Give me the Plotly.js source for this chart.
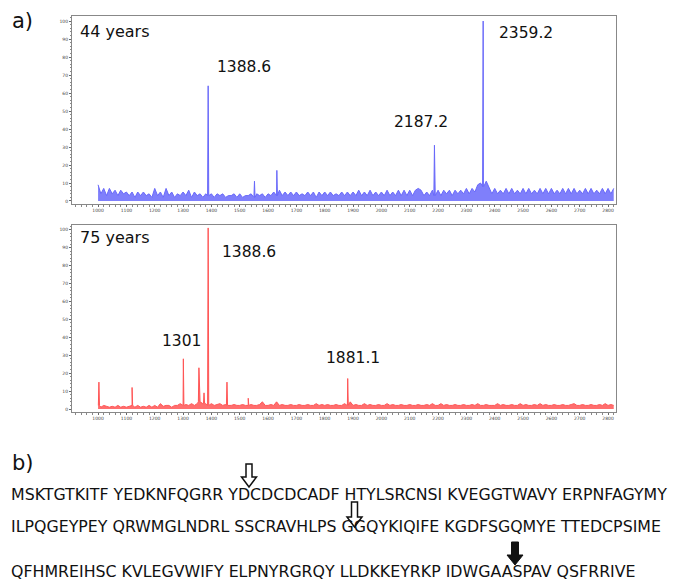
<!DOCTYPE html>
<html>
<head>
<meta charset="utf-8">
<script src="https://cdn.plot.ly/plotly-3.0.1.min.js"></script>
<style>html,body{margin:0;padding:0;background:#fff;}#chart{width:676px;height:582px;}</style>
</head>
<body>
<div id="chart"></div>
<script>
// ---------- DATA ----------
const noiseStart = 1000;
const noiseStep = 10;
// 44 years: baseline noise (relative intensity, every 10 m/z from 1000 to 2820)
const topNoise = [
 9,4,7,3,7,4,6,3,6,4,
 5,3,5,2,5,3,5,3,4,2,
 7,3,5,2,7,3,5,2,4,3,
 5,3,6,2,5,3,4,2,4,3,
 4,2,4,3,4,2,3,3,4,2,
 4,2,3,3,4,2,4,3,4,2,
 4,3,5,3,6,3,5,3,5,3,
 5,3,4,3,5,3,5,2,5,3,
 5,3,5,3,4,3,5,3,5,3,
 5,3,6,3,5,3,6,3,5,3,
 5,3,6,3,5,3,6,3,6,3,
 6,3,6,7,6,3,5,3,6,3,
 6,3,6,4,6,3,6,4,6,4,
 7,4,7,5,9,10,8,11,7,4,
 7,4,6,4,7,4,7,4,6,4,
 7,4,7,4,6,4,7,4,7,4,
 7,4,6,4,7,4,7,4,7,4,
 6,4,7,4,7,4,6,4,7,4,
 7,4,7
];
const topPeakMz = [1388.6, 1552, 1631, 2187.2, 2359.2];
const topPeakInt = [64, 11, 17, 31, 100];
const topLabels = ["1388.6", "2187.2", "2359.2"];

// 75 years
const bottomNoise = [
 2,1,2,1.5,1,1.5,1,2,1,1.5,
 1,1.5,2,1,2,1,1.5,1,2,1,
 2,1,3,1.5,2,2,1,2,2,3,
 2,2.5,2,3,2,3,4,3,3,2,
 3,2,2.5,3,2,2.5,2,2,2.5,2,
 2,2.5,2,2,2.5,2,2,2.5,4,2,
 2,2.5,2,4,2,2.5,2,2,2.5,2,
 2,2.5,2,2,2.5,2,2,3,2,2.5,
 2,2.5,2,2,2.5,2,2,3,2,4,
 2,2.5,2,2,3,2,2.5,2,2,2.5,
 2,2,3,2,2.5,2,2,2.5,2,2,
 2.5,2,2,2.5,2,2,2.5,2,3,2,
 2,3,2,2.5,2,2,2.5,2,2,2.5,
 2,2,2.5,2,3,2,2,2.5,2,2,
 2,3,2,2.5,2,2,2.5,2,2,3,
 2,2.5,2,2,2.5,2,3,2,2.5,2,
 2,2.5,2,2,2.5,2,2,2.5,3,2,
 2,2.5,2,2,2.5,2,2,2.5,2,3,
 2,2.5,2
];
const bottomPeakMz = [1003, 1120, 1301, 1356, 1374, 1388.6, 1455, 1530, 1881.1];
const bottomPeakInt = [15, 12, 28, 23, 9, 101, 15, 6, 17];
const bottomLabels = ["1388.6", "1301", "1881.1"];

const xTicks = [1000,1100,1200,1300,1400,1500,1600,1700,1800,1900,2000,2100,2200,2300,2400,2500,2600,2700,2800];
const yTicks = [0,10,20,30,40,50,60,70,80,90,100];

const panelTitles = ["44 years", "75 years"];
const seqLines = [
 "MSKTGTKITF YEDKNFQGRR YDCDCDCADF HTYLSRCNSI KVEGGTWAVY ERPNFAGYMY",
 "ILPQGEYPEY QRWMGLNDRL SSCRAVHLPS GGQYKIQIFE KGDFSGQMYE TTEDCPSIME",
 "QFHMREIHSC KVLEGVWIFY ELPNYRGRQY LLDKKEYRKP IDWGAASPAV QSFRRIVE"
];

// ---------- BUILD ----------
function spectrum(noise, pmz, pint){
  const pts = [];
  noise.forEach((v,i)=>pts.push([noiseStart + i*noiseStep, v]));
  pmz.forEach((m,i)=>{
    const nb = noise[Math.round((m-noiseStart)/noiseStep)];
    pts.push([m-2, nb]); pts.push([m, pint[i]]); pts.push([m+2, nb]);
  });
  pts.sort((a,b)=>a[0]-b[0]);
  return {x: pts.map(p=>p[0]), y: pts.map(p=>p[1])};
}
const W = 676, H = 582;
const px = x => x / W;
const py = y => 1 - y / H;

const s1 = spectrum(topNoise, topPeakMz, topPeakInt);
const s2 = spectrum(bottomNoise, bottomPeakMz, bottomPeakInt);

const traces = [
  {x: s1.x, y: s1.y, type:'scatter', mode:'lines', xaxis:'x', yaxis:'y',
   line:{color:'rgb(105,105,250)', width:1}, fill:'tozeroy', fillcolor:'rgba(105,105,250,0.85)', hoverinfo:'skip'},
  {x: s2.x, y: s2.y, type:'scatter', mode:'lines', xaxis:'x2', yaxis:'y2',
   line:{color:'rgb(255,85,85)', width:1}, fill:'tozeroy', fillcolor:'rgba(255,85,85,0.85)', hoverinfo:'skip'}
];

const font = 'DejaVu Sans, Verdana, sans-serif';
function xax(anchor){
  return {domain:[px(72), px(616)], range:[908, 2828], anchor:anchor,
    tickvals:xTicks, ticktext:xTicks.map(String), ticks:'outside', ticklen:2, tickcolor:'#666',
    tickfont:{size:4.5, color:'#444', family:font},
    minor:{dtick:20, ticks:'outside', ticklen:1.5, tickcolor:'#888'},
    showline:true, mirror:true, linecolor:'#888', linewidth:1, showgrid:false, zeroline:false, fixedrange:true};
}
function yax(anchor, dom){
  return {domain:dom, range:[-1.67, 102.8], anchor:anchor,
    tickvals:yTicks, ticktext:yTicks.map(String), ticks:'outside', ticklen:2, tickcolor:'#666',
    tickfont:{size:4.5, color:'#444', family:font},
    minor:{dtick:2, ticks:'outside', ticklen:1.5, tickcolor:'#888'},
    showline:true, mirror:true, linecolor:'#888', linewidth:1, showgrid:false, zeroline:false, fixedrange:true};
}

const annotations = [];
function txt(t, x, y, size, xanchor){
  annotations.push({text:t, x:px(x), y:py(y), xref:'paper', yref:'paper', showarrow:false,
    xanchor:xanchor||'left', yanchor:'middle', font:{family:font, size:size, color:'#111'}});
}
txt('a)', 10, 21, 21);
txt('b)', 10, 463, 21);
txt(panelTitles[0], 78, 31, 16);
txt(panelTitles[1], 78, 237, 16);
// peak labels (data coordinates)
function plabel(t, mz, yv, xa, ya){
  annotations.push({text:t, x:mz, y:yv, xref:xa, yref:ya, showarrow:false, xanchor:'center', yanchor:'middle',
    font:{family:font, size:15.5, color:'#111'}});
}
plabel(topLabels[0], 1515, 74.7, 'x', 'y');
plabel(topLabels[1], 2140, 44, 'x', 'y');
plabel(topLabels[2], 2509, 93.5, 'x', 'y');
plabel(bottomLabels[0], 1531, 87.8, 'x2', 'y2');
plabel(bottomLabels[1], 1293, 37.9, 'x2', 'y2');
plabel(bottomLabels[2], 1900, 28.4, 'x2', 'y2');

// sequence lines
const lineY = [494, 526, 571];
seqLines.forEach((ln, li)=>txt(ln, 9, lineY[li], 15.8));

// arrows
function arrowPath(cx, top, hb, tip, sw, hw){
  const P = [[cx-sw/2,top],[cx+sw/2,top],[cx+sw/2,hb],[cx+hw/2,hb],[cx,tip],[cx-hw/2,hb],[cx-sw/2,hb]];
  return 'M' + P.map(p=>px(p[0]).toFixed(5)+','+py(p[1]).toFixed(5)).join(' L') + ' Z';
}
const shapes = [
  {type:'path', xref:'paper', yref:'paper', path:arrowPath(249,464,477,487,6,15), line:{color:'#111', width:1.5}, fillcolor:'white'},
  {type:'path', xref:'paper', yref:'paper', path:arrowPath(354.5,502,517,527,6,15), line:{color:'#111', width:1.5}, fillcolor:'white'},
  {type:'path', xref:'paper', yref:'paper', path:arrowPath(515,542,555,565,7,16), line:{color:'#111', width:1}, fillcolor:'#111'}
];

const layout = {
  width:W, height:H, margin:{l:0,r:0,t:0,b:0}, paper_bgcolor:'#fff', plot_bgcolor:'#fff',
  showlegend:false, font:{family:font},
  xaxis: xax('y'), yaxis: yax('x', [py(204), py(16)]),
  xaxis2: xax('y2'), yaxis2: yax('x2', [py(412), py(224.7)]),
  annotations: annotations, shapes: shapes
};
Plotly.newPlot('chart', traces, layout, {displayModeBar:false, staticPlot:true});
</script>
</body>
</html>
